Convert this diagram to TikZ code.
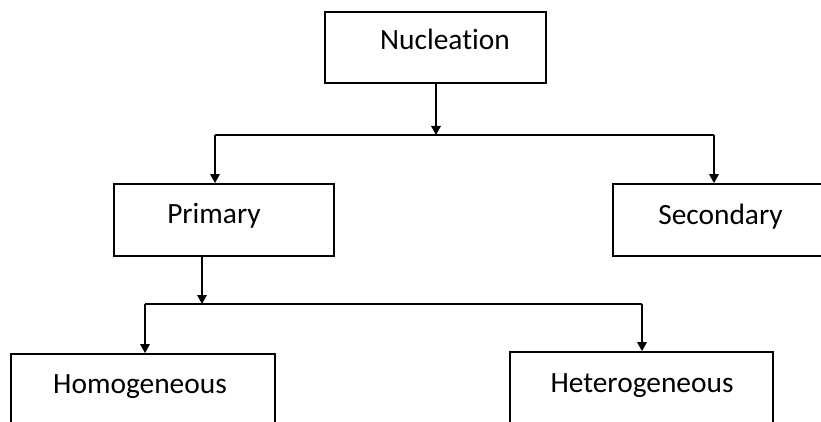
\documentclass[tikz,border=0pt]{standalone}
\usepackage{fontspec}
\setmainfont[Ligatures=NoCommon]{Carlito}
\usetikzlibrary{arrows.meta,positioning}
\tikzset{
  box/.style={draw=black, line width=1.8pt, fill=white, inner sep=0pt,
    minimum height=72pt},
  txt/.style={anchor=base, inner sep=0pt, font=\fontsize{29.4pt}{35pt}\selectfont},
  bus/.style={draw=black, line width=1.5pt},
  flow/.style={draw=black, line width=1.5pt, -{Triangle[length=9pt,width=9.5pt]}},
}
\begin{document}
\begin{tikzpicture}[x=1pt,y=-1pt]
\useasboundingbox (0,0) rectangle (821,422);

% ----- boxes -----
\node[box, minimum width=221pt, minimum height=71pt] (nuc) at (435.5,47.5) {};
\node[box, minimum width=220pt] (prim) at (224,220) {};
\node[box, minimum width=220pt] (sec) at (723,220) {};
\node[box, minimum width=264pt] (homo) at (143,390) {};
\node[box, minimum width=263pt] (hetero) at (641.5,388) {};

% ----- texts -----
\node[txt] (nuctxt) at (445,50) {Nucleation};
\node[txt] (primtxt) at (214,223) {Primary};
\node[txt] (sectxt) at (720.5,224) {Secondary};
\node[txt] (homotxt) at (140,393) {Homogeneous};
\node[txt] (heterotxt) at (642,392) {Heterogeneous};

% ----- first split -----
\coordinate (splitA) at (436,135);
\coordinate (splitAl) at (215,135);
\coordinate (splitAr) at (714,135);
\draw[flow] (nuc.south -| splitA) -- (splitA);
\draw[bus] (splitAl) -- (splitAr);
\draw[flow] (splitAl) -- (splitAl |- prim.north);
\draw[flow] (splitAr) -- (splitAr |- sec.north);

% ----- second split -----
\coordinate (splitB) at (202,304);
\coordinate (splitBl) at (145,304);
\coordinate (splitBr) at (642,304);
\draw[flow] (prim.south -| splitB) -- (splitB);
\draw[bus] (splitBl) -- (splitBr);
\draw[flow] (splitBl) -- (splitBl |- homo.north);
\draw[flow] (splitBr) -- (splitBr |- hetero.north);

\end{tikzpicture}
\end{document}
